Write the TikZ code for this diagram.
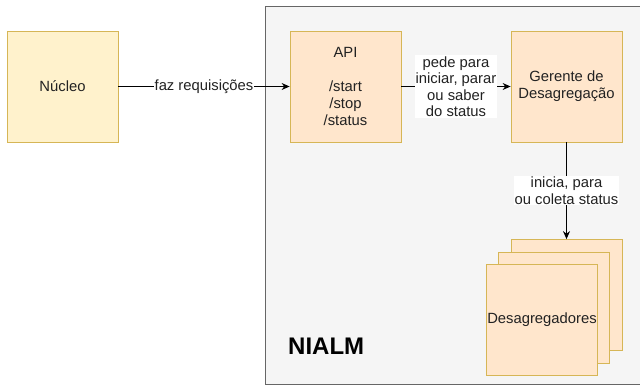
\documentclass[tikz,border=0pt]{standalone}
\usepackage{fontspec}
\setmainfont{Liberation Sans}
\usetikzlibrary{arrows.meta}
\definecolor{ylwfill}{HTML}{FFF2CC}
\definecolor{ylwline}{HTML}{D6B656}
\definecolor{orgfill}{HTML}{FFE6CC}
\definecolor{orgline}{HTML}{D6B656}
\definecolor{grpfill}{HTML}{F5F5F5}
\definecolor{grpline}{HTML}{666666}
\definecolor{txt}{HTML}{222222}
\tikzset{
  yb/.style={draw=ylwline, fill=ylwfill, line width=0.8pt, minimum width=111pt, minimum height=111pt, inner sep=0pt, align=center, font=\fontsize{14.8}{17}\selectfont, text=txt},
  ob/.style={draw=orgline, fill=orgfill, line width=0.8pt, minimum width=111pt, minimum height=111pt, inner sep=0pt, align=center, font=\fontsize{14.8}{17}\selectfont, text=txt},
  conn/.style={line width=1pt, -{Stealth[length=8pt,width=7pt]}},
  lbl/.style={fill=white, inner sep=1pt, align=center, font=\fontsize{14.8}{16.5}\selectfont, text=txt},
}
\begin{document}
\begin{tikzpicture}[x=1pt,y=-1pt]
\useasboundingbox (0,0) rectangle (640,385);
\clip (0,0) rectangle (640,385);
\fill[white] (0,0) rectangle (640,385);
\draw[fill=grpfill, draw=grpline, line width=0.8pt] (265,6) rectangle (660,384);
\node[font=\fontsize{24}{28}\selectfont\bfseries, anchor=west, inner sep=0pt] (nialm) at (288,346) {NIALM};
\node[yb] (nucleo) at (62.5,86.5) {Núcleo};
\node[ob] (api) at (345.5,86.5) {};
\node[align=center, font=\fontsize{14.8}{17}\selectfont, text=txt, inner sep=0pt] (apitxt) at (345.5,86) {API\\[17pt]/start\\/stop\\/status};
\node[ob] (ger) at (566.5,86.5) {Gerente de\\Desagregação};
\node[ob] (d3) at (566.5,295) {};
\node[ob] (d2) at (554,307.5) {};
\node[ob] (d1) at (542,319.5) {Desagregadores};
\draw[conn] (nucleo.east) -- node[lbl] {faz requisições} (api.west);
\draw[conn] (api.east) -- node[lbl] {pede para\\iniciar, parar\\ou saber\\do status} (ger.west);
\draw[conn] (ger.south) -- node[lbl, pos=0.5] {inicia, para\\ou coleta status} (d3.north);
\end{tikzpicture}
\end{document}
